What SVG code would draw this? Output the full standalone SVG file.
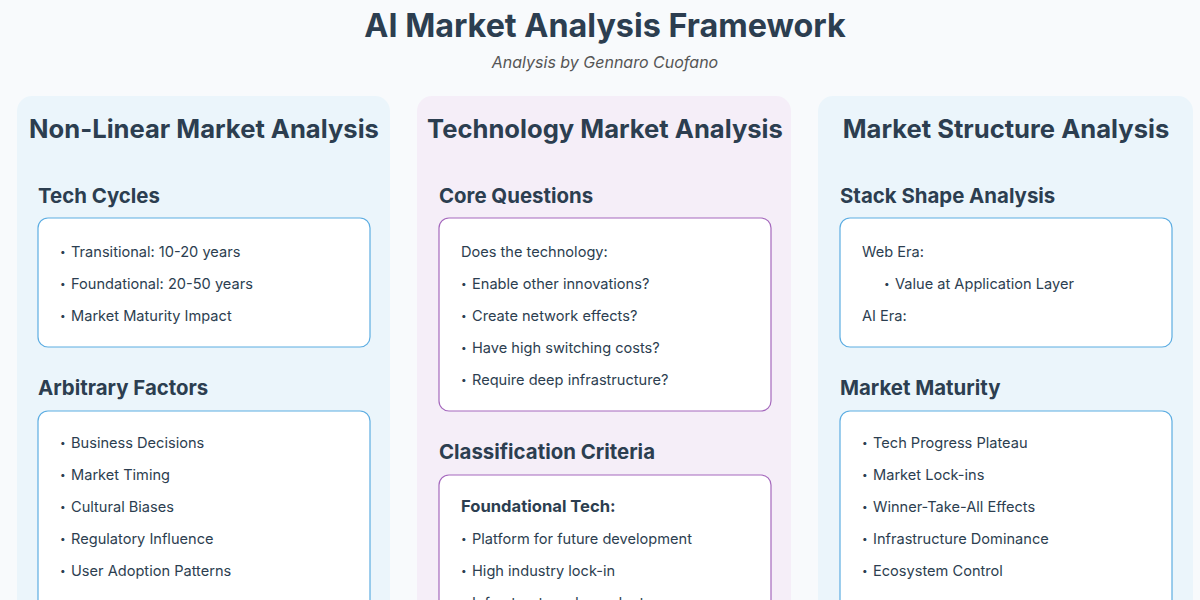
<svg xmlns="http://www.w3.org/2000/svg" width="1200" height="600" viewBox="0 0 1200 600">
<style>
  text { font-family: Inter, "Noto Sans", "Liberation Sans", sans-serif; fill: #2c3e50; }
  .title { font-size: 32.3px; font-weight: 700; text-anchor: middle; }
  .sub { font-size: 16px; font-style: italic; fill: #555; text-anchor: middle; }
  .colhead { font-size: 25.6px; font-weight: 700; text-anchor: middle; }
  .sec { font-size: 20.4px; font-weight: 700; }
  .item { font-size: 14.6px; fill: #2c3e50; }
  .dot { font-size: 10px; }
  .itemb { font-size: 16.6px; font-weight: 700; }
  .panel-blue { fill: #ebf5fb; }
  .panel-purple { fill: #f5eef8; }
  .box-blue { fill: #ffffff; stroke: #5dade2; stroke-width: 1.2; }
  .box-purple { fill: #ffffff; stroke: #a569bd; stroke-width: 1.2; }
</style>
<rect x="0" y="0" width="1200" height="600" fill="#f8fafc"/>

<g id="header">
  <text class="title" x="605" y="37">AI Market Analysis Framework</text>
  <text class="sub" x="605" y="68">Analysis by Gennaro Cuofano</text>
</g>

<g id="col-nonlinear">
  <rect class="panel-blue" x="17" y="96" width="373" height="540" rx="15"/>
  <text class="colhead" x="204" y="138">Non-Linear Market Analysis</text>
  <g id="tech-cycles">
    <text class="sec" x="38" y="203">Tech Cycles</text>
    <rect class="box-blue" x="38" y="218" width="332" height="129" rx="10"/>
    <text class="item" y="257"><tspan class="dot" x="60" dy="-2.5">•</tspan><tspan x="71" dy="2.5">Transitional: 10-20 years</tspan></text>
    <text class="item" y="289"><tspan class="dot" x="60" dy="-2.5">•</tspan><tspan x="71" dy="2.5">Foundational: 20-50 years</tspan></text>
    <text class="item" y="321"><tspan class="dot" x="60" dy="-2.5">•</tspan><tspan x="71" dy="2.5">Market Maturity Impact</tspan></text>
  </g>
  <g id="arbitrary-factors">
    <text class="sec" x="38" y="395">Arbitrary Factors</text>
    <rect class="box-blue" x="38" y="411" width="332" height="220" rx="10"/>
    <text class="item" y="448"><tspan class="dot" x="60" dy="-2.5">•</tspan><tspan x="71" dy="2.5">Business Decisions</tspan></text>
    <text class="item" y="480"><tspan class="dot" x="60" dy="-2.5">•</tspan><tspan x="71" dy="2.5">Market Timing</tspan></text>
    <text class="item" y="512"><tspan class="dot" x="60" dy="-2.5">•</tspan><tspan x="71" dy="2.5">Cultural Biases</tspan></text>
    <text class="item" y="544"><tspan class="dot" x="60" dy="-2.5">•</tspan><tspan x="71" dy="2.5">Regulatory Influence</tspan></text>
    <text class="item" y="576"><tspan class="dot" x="60" dy="-2.5">•</tspan><tspan x="71" dy="2.5">User Adoption Patterns</tspan></text>
  </g>
</g>

<g id="col-technology">
  <rect class="panel-purple" x="417" y="96" width="374" height="540" rx="15"/>
  <text class="colhead" x="605" y="138">Technology Market Analysis</text>
  <g id="core-questions">
    <text class="sec" x="439" y="203">Core Questions</text>
    <rect class="box-purple" x="439" y="218" width="332" height="193" rx="10"/>
    <text class="item" x="461" y="257">Does the technology:</text>
    <text class="item" y="289"><tspan class="dot" x="461" dy="-2.5">•</tspan><tspan x="472" dy="2.5">Enable other innovations?</tspan></text>
    <text class="item" y="321"><tspan class="dot" x="461" dy="-2.5">•</tspan><tspan x="472" dy="2.5">Create network effects?</tspan></text>
    <text class="item" y="353"><tspan class="dot" x="461" dy="-2.5">•</tspan><tspan x="472" dy="2.5">Have high switching costs?</tspan></text>
    <text class="item" y="385"><tspan class="dot" x="461" dy="-2.5">•</tspan><tspan x="472" dy="2.5">Require deep infrastructure?</tspan></text>
  </g>
  <g id="classification-criteria">
    <text class="sec" x="439" y="459">Classification Criteria</text>
    <rect class="box-purple" x="439" y="475" width="332" height="180" rx="10"/>
    <text class="itemb" x="461" y="512">Foundational Tech:</text>
    <text class="item" y="544"><tspan class="dot" x="461" dy="-2.5">•</tspan><tspan x="472" dy="2.5">Platform for future development</tspan></text>
    <text class="item" y="576"><tspan class="dot" x="461" dy="-2.5">•</tspan><tspan x="472" dy="2.5">High industry lock-in</tspan></text>
    <text class="item" y="608"><tspan class="dot" x="461" dy="-2.5">•</tspan><tspan x="472" dy="2.5">Infrastructure dependent</tspan></text>
  </g>
</g>

<g id="col-structure">
  <rect class="panel-blue" x="818" y="96" width="375" height="540" rx="15"/>
  <text class="colhead" x="1006" y="138">Market Structure Analysis</text>
  <g id="stack-shape">
    <text class="sec" x="840" y="203">Stack Shape Analysis</text>
    <rect class="box-blue" x="840" y="218" width="332" height="129" rx="10"/>
    <text class="item" x="862" y="257">Web Era:</text>
    <text class="item" y="289"><tspan class="dot" x="884" dy="-2.5">•</tspan><tspan x="895" dy="2.5">Value at Application Layer</tspan></text>
    <text class="item" x="862" y="321">AI Era:</text>
  </g>
  <g id="market-maturity">
    <text class="sec" x="840" y="395">Market Maturity</text>
    <rect class="box-blue" x="840" y="411" width="332" height="220" rx="10"/>
    <text class="item" y="448"><tspan class="dot" x="862" dy="-2.5">•</tspan><tspan x="873" dy="2.5">Tech Progress Plateau</tspan></text>
    <text class="item" y="480"><tspan class="dot" x="862" dy="-2.5">•</tspan><tspan x="873" dy="2.5">Market Lock-ins</tspan></text>
    <text class="item" y="512"><tspan class="dot" x="862" dy="-2.5">•</tspan><tspan x="873" dy="2.5">Winner-Take-All Effects</tspan></text>
    <text class="item" y="544"><tspan class="dot" x="862" dy="-2.5">•</tspan><tspan x="873" dy="2.5">Infrastructure Dominance</tspan></text>
    <text class="item" y="576"><tspan class="dot" x="862" dy="-2.5">•</tspan><tspan x="873" dy="2.5">Ecosystem Control</tspan></text>
  </g>
</g>

<g id="connectors"></g>
</svg>
